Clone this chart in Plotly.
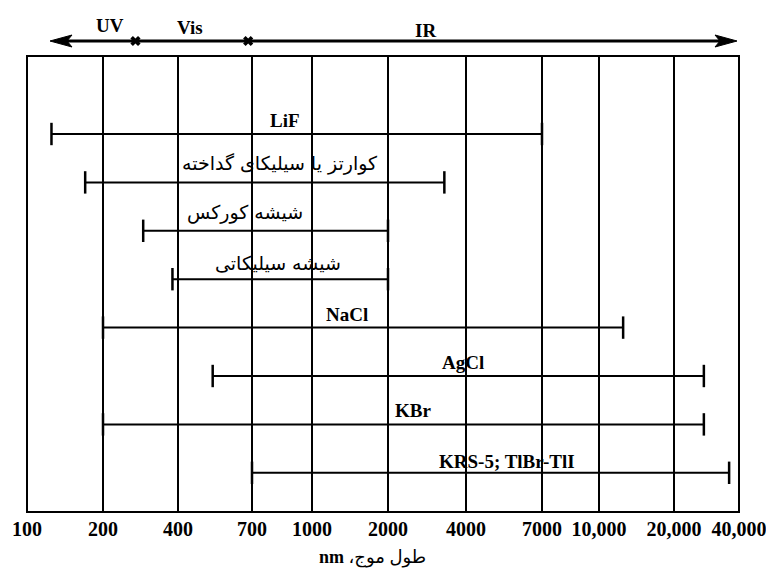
import numpy as np
import plotly.graph_objects as go

# Printed wavelength scale (nm)
TICK_NM = [100, 200, 400, 700, 1000, 2000, 4000, 7000, 10000, 20000, 40000]
TICK_TEXT = ["100", "200", "400", "700", "1000", "2000", "4000", "7000",
             "10,000", "20,000", "40,000"]

# Transmission range of each window material (nm)
MATERIALS = ["LiF", "کوارتز یا سیلیکای گداخته", "شیشه کورکس", "شیشه سیلیکاتی",
             "NaCl", "AgCl", "KBr", "KRS-5; TlBr-TlI"]
RANGE_LOW_NM = [125, 170, 290, 380, 200, 520, 200, 700]
RANGE_HIGH_NM = [7000, 3300, 2000, 2000, 12500, 27500, 27500, 36000]

# Spectral regions and their boundaries (nm)
REGIONS = ["UV", "Vis", "IR"]
REGION_BOUNDS_NM = [270, 680]

# ---- layout of the scale -------------------------------------------------
# the printed scale is not uniform: each tick has its own horizontal position
TICK_POS = [0, 76, 151, 225, 285, 361, 439, 515, 572, 647, 712]
ROW_PX = 48.4          # vertical spacing of the material rows (pixels)
ROW0_PX = 134          # pixel height of the first row
FRAME_TOP_PX, FRAME_BOTTOM_PX = 56, 512
ARROW_PX = 41
PLOT_BOTTOM_PX = 515


def to_pos(nm):
    return np.interp(np.log10(nm), np.log10(TICK_NM), TICK_POS)


def px_to_row(py):
    return (py - ROW0_PX) / ROW_PX


SERIF = "Liberation Serif, DejaVu Sans"
PERSIAN = "DejaVu Sans"

fig = go.Figure()

frame_top = px_to_row(FRAME_TOP_PX)
frame_bottom = px_to_row(FRAME_BOTTOM_PX)

# frame and vertical scale lines
shapes = [dict(type="rect", xref="x", yref="y", x0=TICK_POS[0], x1=TICK_POS[-1],
               y0=frame_top, y1=frame_bottom, line=dict(color="black", width=2))]
for p in TICK_POS[1:-1]:
    shapes.append(dict(type="line", xref="x", yref="y", x0=p, x1=p,
                       y0=frame_top, y1=frame_bottom,
                       line=dict(color="black", width=2)))

# region arrow across the top
ay = px_to_row(ARROW_PX)
left_tip, right_tip = 23, 710
head = 6 / ROW_PX
shapes.append(dict(type="line", xref="x", yref="y", x0=left_tip + 8, x1=right_tip - 8,
                   y0=ay, y1=ay, line=dict(color="black", width=3)))
shapes.append(dict(type="path", xref="x", yref="y",
                   path=f"M {left_tip},{ay} L {left_tip+22},{ay-head} L {left_tip+17},{ay} "
                        f"L {left_tip+22},{ay+head} Z",
                   fillcolor="black", line=dict(color="black", width=1)))
shapes.append(dict(type="path", xref="x", yref="y",
                   path=f"M {right_tip},{ay} L {right_tip-22},{ay-head} L {right_tip-17},{ay} "
                        f"L {right_tip-22},{ay+head} Z",
                   fillcolor="black", line=dict(color="black", width=1)))

fig.add_trace(go.Scatter(
    x=to_pos(REGION_BOUNDS_NM), y=[ay] * len(REGION_BOUNDS_NM), mode="markers",
    marker=dict(symbol="x", size=9, color="black"), hoverinfo="skip"))

# transmission ranges with end caps
rows = np.arange(len(MATERIALS))
for i, name in enumerate(MATERIALS):
    xs = to_pos([RANGE_LOW_NM[i], RANGE_HIGH_NM[i]])
    fig.add_trace(go.Scatter(
        x=xs, y=[rows[i], rows[i]], mode="lines+markers", name=name,
        line=dict(color="black", width=2),
        marker=dict(symbol="line-ns", size=16, color="black",
                    line=dict(color="black", width=2.5)),
        hoverinfo="skip"))

annotations = []
label_x_px = [285, 280, 245, 278, 347, 463, 413, 507]
label_dy_px = [14, 19, 18, 16, 13, 14, 14, 11]
for i, name in enumerate(MATERIALS):
    persian = not name[0].isascii()
    annotations.append(dict(
        x=label_x_px[i] - 27, y=rows[i] - label_dy_px[i] / ROW_PX,
        xref="x", yref="y", text=name if persian else f"<b>{name}</b>",
        showarrow=False,
        font=dict(family=PERSIAN if persian else SERIF, size=19, color="black")))

region_x_px = [110, 190, 425]
region_y_px = [25, 27, 30]
for name, xp, yp in zip(REGIONS, region_x_px, region_y_px):
    annotations.append(dict(x=xp - 27, y=px_to_row(yp), xref="x", yref="y",
                            text=f"<b>{name}</b>", showarrow=False,
                            font=dict(family=SERIF, size=19, color="black")))

# axis title, placed below the plotting area
annotations.append(dict(x=372 - 27, y=(PLOT_BOTTOM_PX - 557) / PLOT_BOTTOM_PX,
                        xref="x", yref="paper", yanchor="middle",
                        text="\u202bطول موج، <b>nm</b>\u202c", showarrow=False,
                        font=dict(family=SERIF, size=18, color="black")))

fig.update_layout(
    width=766, height=570,
    margin=dict(l=24, r=24, t=0, b=570 - PLOT_BOTTOM_PX),
    paper_bgcolor="white", plot_bgcolor="white",
    showlegend=False,
    shapes=shapes, annotations=annotations,
    xaxis=dict(range=[-3, 715], tickvals=TICK_POS,
               ticktext=[f"<b>{t}</b>" for t in TICK_TEXT],
               showgrid=False, zeroline=False, showline=False, ticks="",
               ticklabeloverflow="allow",
               tickfont=dict(family=SERIF, size=20, color="black")),
    yaxis=dict(range=[px_to_row(PLOT_BOTTOM_PX), px_to_row(0)], visible=False),
)

fig.write_html("out.html")
